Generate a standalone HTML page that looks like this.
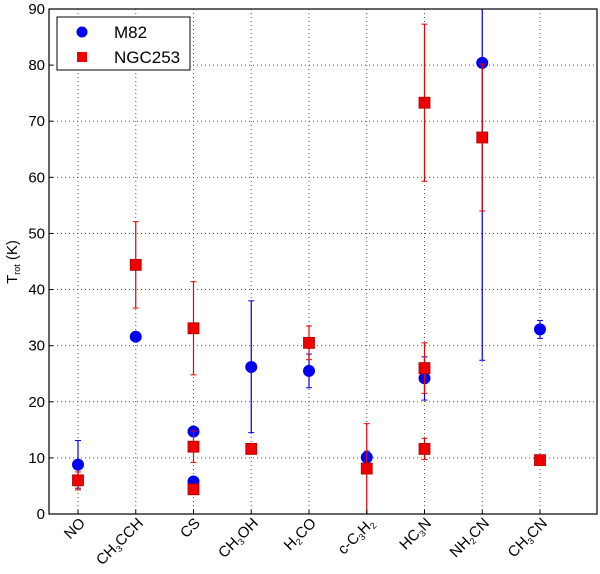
<!DOCTYPE html>
<html><head><meta charset="utf-8"><style>
body{margin:0;background:#fff;}
svg{font-family:"Liberation Sans","DejaVu Sans",sans-serif;}
.xl{font-size:15px;}
.s{font-size:9px;}
</style></head><body>
<svg id="chart" width="600" height="569" viewBox="0 0 600 569" xmlns="http://www.w3.org/2000/svg">
<g id="grid"></g>
<g id="marks"></g>
<rect x="49" y="9" width="548" height="505" fill="none" stroke="#000" stroke-width="1.2"/>
<g id="axes"></g>
<g>
<text class="xl" text-anchor="end" transform="translate(86,524) rotate(-45)">NO</text>
<text class="xl" text-anchor="end" transform="translate(144,524) rotate(-45)">CH<tspan class="s" dy="3">3</tspan><tspan dy="-3">CCH</tspan></text>
<text class="xl" text-anchor="end" transform="translate(201,524) rotate(-45)">CS</text>
<text class="xl" text-anchor="end" transform="translate(259,524) rotate(-45)">CH<tspan class="s" dy="3">3</tspan><tspan dy="-3">OH</tspan></text>
<text class="xl" text-anchor="end" transform="translate(317,524) rotate(-45)">H<tspan class="s" dy="3">2</tspan><tspan dy="-3">CO</tspan></text>
<text class="xl" text-anchor="end" transform="translate(375,524) rotate(-45)">c-C<tspan class="s" dy="3">3</tspan><tspan dy="-3">H</tspan><tspan class="s" dy="3">2</tspan></text>
<text class="xl" text-anchor="end" transform="translate(432,524) rotate(-45)">HC<tspan class="s" dy="3">3</tspan><tspan dy="-3">N</tspan></text>
<text class="xl" text-anchor="end" transform="translate(490,524) rotate(-45)">NH<tspan class="s" dy="3">2</tspan><tspan dy="-3">CN</tspan></text>
<text class="xl" text-anchor="end" transform="translate(548,524) rotate(-45)">CH<tspan class="s" dy="3">3</tspan><tspan dy="-3">CN</tspan></text>
</g>
<text transform="translate(17,262) rotate(-90)" text-anchor="middle" font-size="15">T<tspan font-size="9" dy="3">rot</tspan><tspan dy="-3"> (K)</tspan></text>
<g>
<rect x="57" y="17" width="133" height="53" fill="#fff" stroke="#000"/>
<circle cx="82" cy="32" r="5.5" fill="#0000ee"/>
<text x="114" y="38" font-size="17">M82</text>
<rect x="77" y="52" width="10" height="10" fill="#ee0000"/>
<text x="114" y="63" font-size="17">NGC253</text>
</g>
</svg>
<script>
const categories=["NO","CH3CCH","CS","CH3OH","H2CO","c-C3H2","HC3N","NH2CN","CH3CN"];
const yTicks=[0,10,20,30,40,50,60,70,80,90];
// [categoryIndex, value, errLow, errHigh]
const m82=[[0,8.8,4.6,13.1],[1,31.6,31.6,31.6],[2,14.7,14.7,14.7],[2,5.8,5.8,5.8],[3,26.2,14.5,38],[4,25.5,22.5,28.5],[5,10.1,9,11.2],[6,24.2,20.3,28],[7,80.4,27.4,95],[8,32.9,31.3,34.5]];
const ngc253=[[0,6.0,4.3,7.5],[1,44.4,36.7,52.1],[2,33.1,24.8,41.4],[2,12.0,9.2,14.8],[2,4.4,3.8,5.0],[3,11.6,11.6,11.6],[4,30.5,27.5,33.5],[5,8.1,0,16.1],[6,73.3,59.3,87.3],[6,26.0,21.5,30.5],[6,11.6,9.7,13.5],[7,67.1,54,80.2],[8,9.6,9.6,9.6]];
const NS="http://www.w3.org/2000/svg";
const X=i=>78+i*57.75, Y=v=>514-v*(505/90);
function mk(t,a,p){const e=document.createElementNS(NS,t);for(const k in a)e.setAttribute(k,a[k]);p.appendChild(e);return e;}
const grid=document.getElementById('grid'),axes=document.getElementById('axes'),marks=document.getElementById('marks');
yTicks.forEach(v=>{
 if(v>0&&v<90){const l=mk('line',{x1:49,x2:597,y1:Y(v),y2:Y(v),stroke:'#555','stroke-dasharray':'1,3','stroke-width':1},grid);
 }
 const t=mk('line',{x1:49,x2:53,y1:Y(v),y2:Y(v),stroke:'#000'},axes);
 
 const tx=mk('text',{x:45,y:Y(v)+5,'text-anchor':'end','font-size':15},axes);tx.textContent=v;
 
});
categories.forEach((c,i)=>{
 const l=mk('line',{x1:X(i),x2:X(i),y1:9,y2:514,stroke:'#555','stroke-dasharray':'1,3'},grid);
 
 const t=mk('line',{x1:X(i),x2:X(i),y1:514,y2:510,stroke:'#000'},axes);
 
});
function series(data,col,shape,name){
 data.forEach(d=>{
  const x=X(d[0]),g=mk('g',{},marks);
  
  if(d[3]>d[2]){
   const y1=Math.max(Y(d[3]),9),y2=Math.min(Y(d[2]),514);
   mk('line',{x1:x,x2:x,y1:y1,y2:y2,stroke:col,'stroke-width':1.2},g);
   if(d[3]<=90)mk('line',{x1:x-3,x2:x+3,y1:Y(d[3]),y2:Y(d[3]),stroke:col},g);
   if(d[2]>0)mk('line',{x1:x-3,x2:x+3,y1:Y(d[2]),y2:Y(d[2]),stroke:col},g);
  }
  if(shape=='c')mk('circle',{cx:x,cy:Y(d[1]),r:6,fill:col},g);
  else mk('rect',{x:x-5.5,y:Y(d[1])-5.5,width:11,height:11,fill:col,stroke:'#a00','stroke-width':0.8},g);
 });
}
series(m82,'#0000ee','c','m82');
series(ngc253,'#ee0000','s','ngc253');
</script>
</body></html>
